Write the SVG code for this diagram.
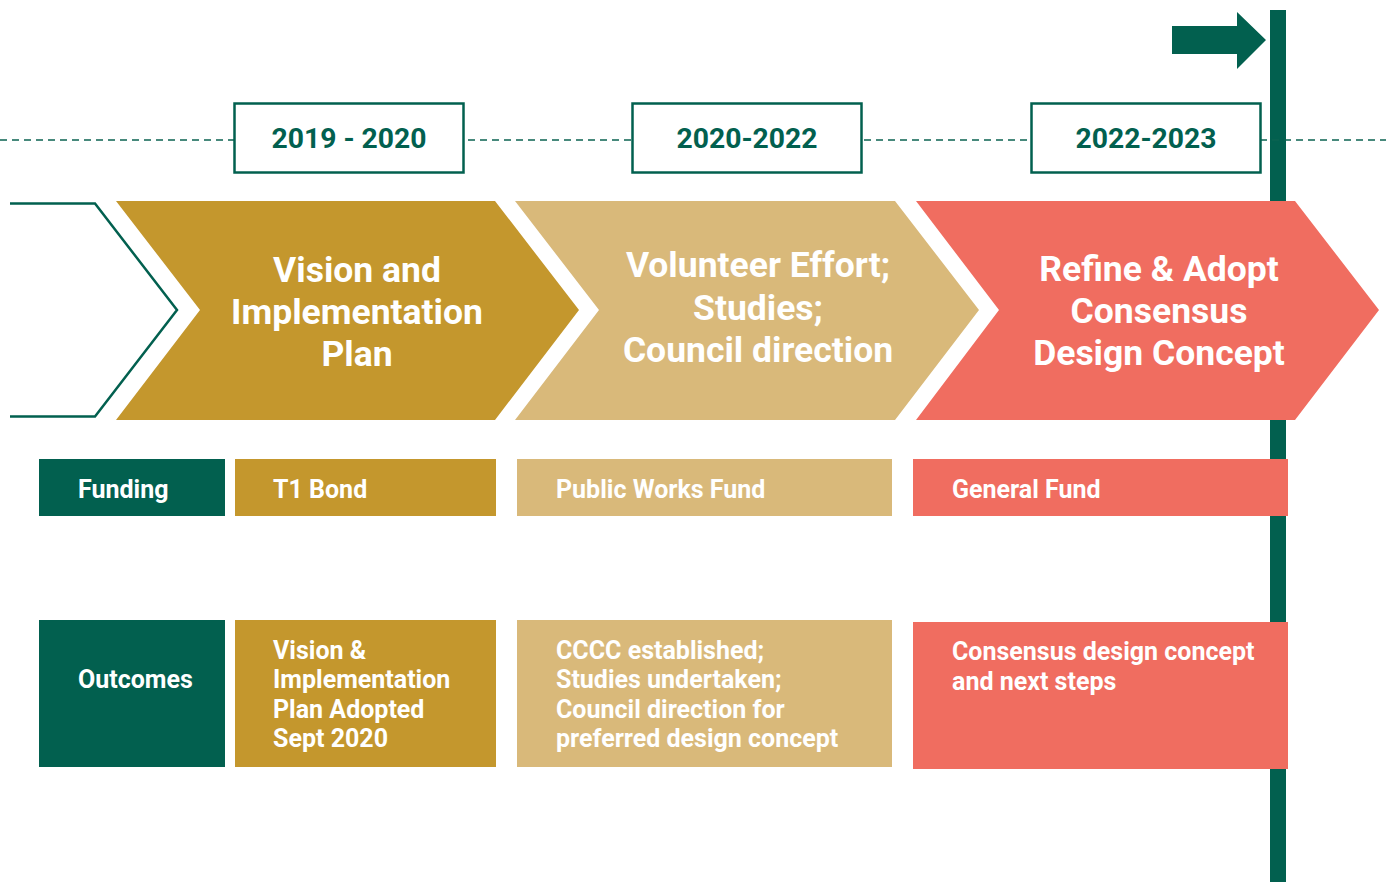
<svg xmlns="http://www.w3.org/2000/svg" width="1386" height="882" viewBox="0 0 1386 882">
<style>
.dash{stroke:#0B6352;stroke-width:1.6;stroke-dasharray:7 5;fill:none}
.year rect{fill:#fff;stroke:#02604F;stroke-width:2.5}
.year text{font-family:Roboto,"Liberation Sans",sans-serif;font-weight:bold;font-size:28.3px;fill:#02604F;text-anchor:middle}
.chev text{font-family:Roboto,"Liberation Sans",sans-serif;font-weight:bold;font-size:35.5px;fill:#fff;text-anchor:middle}
.cell text{font-family:Roboto,"Liberation Sans",sans-serif;font-weight:bold;font-size:25px;fill:#fff}
.green{fill:#02604F}.gold{fill:#C4972D}.tan{fill:#D9B97A}.coral{fill:#F06D60}
</style>
<g id="timeline-bar">
<rect x="1270" y="10" width="16" height="872" class="green"/>
<polygon points="1172,26 1237,26 1237,12 1266,40 1237,69 1237,54 1172,54" class="green"/>
</g>
<g id="connectors">
<line x1="0" y1="140" x2="1386" y2="140" class="dash"/>
</g>
<g id="year-2019" class="year"><rect x="234.5" y="103.5" width="229" height="69"/><text x="349" y="148">2019 - 2020</text></g>
<g id="year-2020" class="year"><rect x="632.5" y="103.5" width="229" height="69"/><text x="747" y="148">2020-2022</text></g>
<g id="year-2022" class="year"><rect x="1031.5" y="103.5" width="229" height="69"/><text x="1146" y="148">2022-2023</text></g>
<g id="chevron-prev"><polyline points="10,203.5 95,203.5 177,310 95,416.5 10,416.5" fill="none" stroke="#02604F" stroke-width="2.5"/></g>
<g id="chevron-vision" class="chev">
<polygon points="116,201 495,201 579,310 495,420 116,420 200,310" class="gold"/>
<text x="357" y="282">Vision and</text><text x="357" y="324">Implementation</text><text x="357" y="366">Plan</text>
</g>
<g id="chevron-volunteer" class="chev">
<polygon points="515,201 895,201 979,310 895,420 515,420 599,310" class="tan"/>
<text x="758" y="277">Volunteer Effort;</text><text x="758" y="320">Studies;</text><text x="758" y="362">Council direction</text>
</g>
<g id="chevron-refine" class="chev">
<polygon points="916,201 1295,201 1379,310 1295,420 916,420 999,310" class="coral"/>
<text x="1159" y="281">Refine &amp; Adopt</text><text x="1159" y="323">Consensus</text><text x="1159" y="365">Design Concept</text>
</g>
<g id="funding-label" class="cell"><rect x="39" y="459" width="186" height="57" class="green"/><text x="78" y="498">Funding</text></g>
<g id="funding-t1" class="cell"><rect x="235" y="459" width="261" height="57" class="gold"/><text x="273" y="498">T1 Bond</text></g>
<g id="funding-pw" class="cell"><rect x="517" y="459" width="375" height="57" class="tan"/><text x="556" y="498">Public Works Fund</text></g>
<g id="funding-gf" class="cell"><rect x="913" y="459" width="375" height="57" class="coral"/><text x="952" y="498">General Fund</text></g>
<g id="outcomes-label" class="cell"><rect x="39" y="620" width="186" height="147" class="green"/><text x="78" y="688">Outcomes</text></g>
<g id="outcomes-vision" class="cell"><rect x="235" y="620" width="261" height="147" class="gold"/>
<text x="273" y="659">Vision &amp;</text><text x="273" y="688">Implementation</text><text x="273" y="718">Plan Adopted</text><text x="273" y="747">Sept 2020</text></g>
<g id="outcomes-cccc" class="cell"><rect x="517" y="620" width="375" height="147" class="tan"/>
<text x="556" y="659">CCCC established;</text><text x="556" y="688">Studies undertaken;</text><text x="556" y="718">Council direction for</text><text x="556" y="747">preferred design concept</text></g>
<g id="outcomes-consensus" class="cell"><rect x="913" y="622" width="375" height="147" class="coral"/>
<text x="952" y="660">Consensus design concept</text><text x="952" y="690">and next steps</text></g>
</svg>
